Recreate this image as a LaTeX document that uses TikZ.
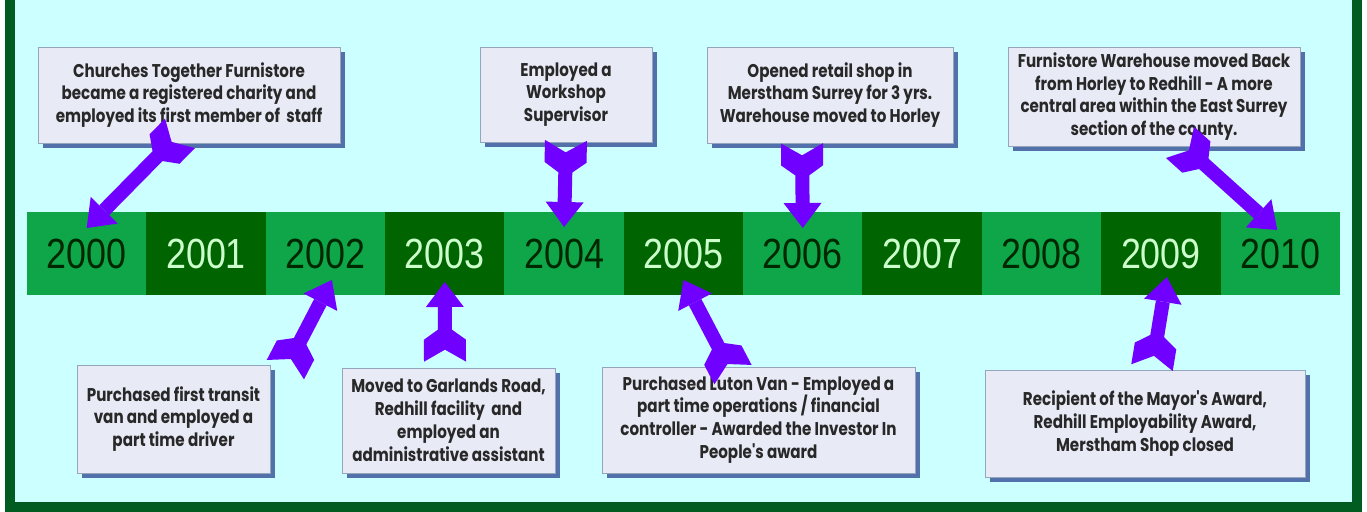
\documentclass[tikz,border=0pt]{standalone}
\usepackage{fontspec}
\usepackage{tikz}
\usetikzlibrary{positioning}
\usetikzlibrary{arrows.meta}
\usetikzlibrary{shadows}
\usetikzlibrary{decorations.markings}
\newfontfamily\boxfont[FakeStretch=0.82]{Poppins}
\newfontfamily\yearfont[FakeStretch=0.85]{Liberation Sans}
\definecolor{bgcyan}     {RGB}{204,255,255}
\definecolor{framegreen} {RGB}{  0, 92, 32}
\definecolor{celllight}  {RGB}{ 14,166, 72}
\definecolor{celldark}   {RGB}{  0,100,  0}
\definecolor{yeardark}   {RGB}{  0, 40,  0}
\definecolor{yearlight}  {RGB}{204,255,204}
\definecolor{evpurple}   {RGB}{112,  0,255}
\definecolor{boxfill}    {RGB}{232,234,246}
\definecolor{boxline}    {RGB}{150,165,190}
\definecolor{boxshadow}  {RGB}{ 82,112,170}
\definecolor{boxtext}    {RGB}{ 40, 40, 40}
\tikzset{
  yearcell/.style={minimum width=23.87mm, minimum height=16.6mm, inner sep=0pt, outer sep=0pt,
    font=\yearfont\fontsize{24}{24}\selectfont},
  lightyear/.style={yearcell, fill=celllight, text=yeardark},
  darkyear/.style={yearcell, fill=celldark, text=yearlight},
  eventbox/.style={draw=boxline, fill=boxfill, text=boxtext, align=center, inner sep=0pt,
    font=\boxfont\bfseries\fontsize{10.5}{13}\selectfont,
    drop shadow={shadow xshift=1mm, shadow yshift=-1mm, fill=boxshadow, opacity=1}},
  % shaft and head, with the feathered tail put on at the start
  evarrow/.style={color=evpurple, line width=2.8mm, shorten <=2.4mm,
    -{Triangle[length=5mm, width=7.6mm, line width=0pt]},
    postaction={decorate, decoration={markings, mark=at position 0 with
      {\fill[evpurple] (0,21) -- (22,21) -- (32,7) -- (32,-7) -- (22,-21) -- (0,-21) -- (12,0) -- cycle;}}}}
}

\begin{document}
\begin{tikzpicture}[x=0.2mm, y=-0.2mm]
  \useasboundingbox (0,0) rectangle (1367,511);
  \fill[white] (0,0) rectangle (1367,511);
  \draw[line width=1.9mm, draw=framegreen, fill=bgcyan] (10,-30) rectangle (1357,507);

  % the years
  \node (y2000) [lightyear] at (86.7,253.5) {2000};
  \node (y2001) [darkyear, right=0pt of y2000] {2001};
  \node (y2002) [lightyear, right=0pt of y2001] {2002};
  \node (y2003) [darkyear, right=0pt of y2002] {2003};
  \node (y2004) [lightyear, right=0pt of y2003] {2004};
  \node (y2005) [darkyear, right=0pt of y2004] {2005};
  \node (y2006) [lightyear, right=0pt of y2005] {2006};
  \node (y2007) [darkyear, right=0pt of y2006] {2007};
  \node (y2008) [lightyear, right=0pt of y2007] {2008};
  \node (y2009) [darkyear, right=0pt of y2008] {2009};
  \node (y2010) [lightyear, right=0pt of y2009] {2010};

  % events above the line
  \node (b2000) [eventbox, minimum width=60.4mm, minimum height=19.2mm] at (189,95)
    {Churches Together Furnistore\\became a registered charity and\\employed its first member of\ \ staff};
  \node (b2004) [eventbox, minimum width=34.4mm, minimum height=19mm] at (566,94.5)
    {Employed a\\Workshop\\Supervisor};
  \node (b2006) [eventbox, minimum width=49.2mm, minimum height=19.2mm] at (830,95)
    {Opened retail shop in\\Merstham Surrey for 3 yrs.\\Warehouse moved to Horley};
  \node (b2010) [eventbox, minimum width=58.4mm, minimum height=19.8mm] at (1154,96.5)
    {Furnistore Warehouse moved Back\\from Horley to Redhill - A more\\central area within the East Surrey\\section of the county.};

  % events below the line
  \node (b2002) [eventbox, minimum width=38.6mm, minimum height=21.6mm] at (173.5,419)
    {Purchased first transit\\van and employed a\\part time driver};
  \node (b2003) [eventbox, minimum width=42.6mm, minimum height=21mm] at (448.5,420.5)
    {Moved to Garlands Road,\\Redhill facility\ \ and\\employed an\\administrative assistant};
  \node (b2005) [eventbox, minimum width=62.6mm, minimum height=21.2mm] at (758.5,420)
    {Purchased Luton Van - Employed a\\part time operations / financial\\controller - Awarded the Investor In\\People's award};
  \node (b2009) [eventbox, minimum width=64mm, minimum height=21.4mm] at (1145,423.5)
    {Recipient of the Mayor's Award,\\Redhill Employability Award,\\Merstham Shop closed};

  \draw[evarrow] ([xshift=-1.8mm,yshift=2mm]b2000.south) -- ([yshift=-3.2mm]y2000.north);
  \draw[evarrow] ([yshift=0.4mm]b2004.south) -- ([yshift=-3mm]y2004.north);
  \draw[evarrow] ([xshift=-5.6mm]b2006.south) -- ([yshift=-3.2mm]y2006.north);
  \draw[evarrow] ([xshift=5.2mm,yshift=0.8mm]b2010.south) -- ([xshift=-0.6mm,yshift=-3.6mm]y2010.north);
  \draw[evarrow] ([xshift=3mm,yshift=-1mm]b2002.north east) -- ([xshift=1.3mm,yshift=3mm]y2002.south);
  \draw[evarrow] ([xshift=-0.7mm,yshift=1.2mm]b2003.north) -- ([yshift=2.6mm]y2003.south);
  \draw[evarrow] ([xshift=-5.1mm,yshift=-1.6mm]b2005.north) -- ([yshift=3mm]y2005.south);
  \draw[evarrow] ([xshift=1.4mm,yshift=0.4mm]b2009.north) -- ([xshift=1.2mm,yshift=3.6mm]y2009.south);
\end{tikzpicture}
\end{document}
